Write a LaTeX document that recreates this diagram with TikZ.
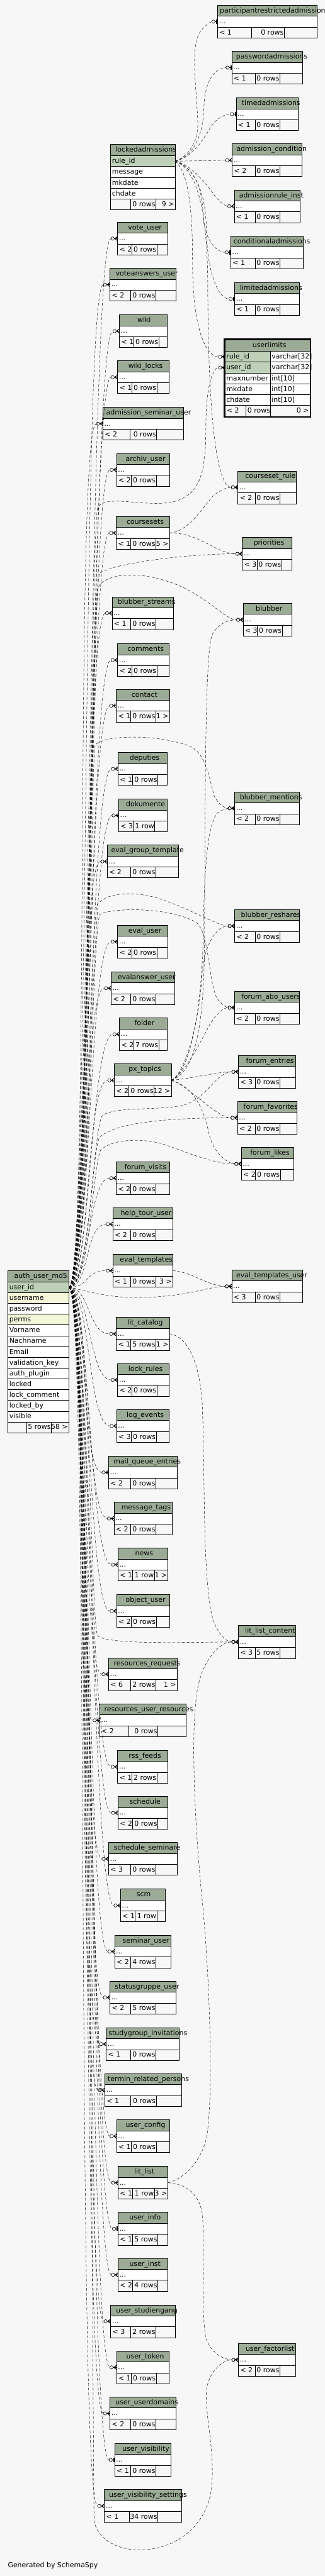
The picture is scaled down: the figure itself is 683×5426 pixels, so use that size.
\documentclass[tikz,border=0pt]{standalone}
\usepackage{fontspec}
\setmainfont{DejaVu Sans}
\usepackage{tikz}
\usetikzlibrary{arrows.meta, calc}

\definecolor{hdrcol}{HTML}{9BAB96}
\definecolor{pkcol}{HTML}{BED1B8}
\definecolor{idxcol}{HTML}{F4F7DA}
\definecolor{bgcol}{HTML}{F7F7F7}

\newcommand\erfont{\fontsize{14.5}{17}\selectfont}

% zero or many
\pgfdeclarearrow{
  name = Many,
  setup code = {
    \pgfarrowssettipend{0pt}
    \pgfarrowssetlineend{-14pt}
    \pgfarrowssetbackend{-14pt}
    \pgfarrowsupperhullpoint{0pt}{5pt}
    \pgfarrowsupperhullpoint{-14pt}{3.5pt}
  },
  drawing code = {
    \pgfsetdash{}{0pt}
    \pgfsetlinewidth{0.8pt}
    \pgfpathcircle{\pgfqpoint{-10.5pt}{0pt}}{3.5pt}
    \pgfusepathqstroke
    \pgfsetlinewidth{1.3pt}
    \pgfpathmoveto{\pgfqpoint{-7pt}{0pt}}
    \pgfpathlineto{\pgfqpoint{0pt}{0pt}}
    \pgfpathmoveto{\pgfqpoint{0pt}{4.5pt}}
    \pgfpathlineto{\pgfqpoint{-6pt}{0pt}}
    \pgfpathlineto{\pgfqpoint{0pt}{-4.5pt}}
    \pgfusepathqstroke
  }
}
% zero or one
\pgfdeclarearrow{
  name = One,
  setup code = {
    \pgfarrowssettipend{0pt}
    \pgfarrowssetlineend{-12pt}
    \pgfarrowssetbackend{-12pt}
    \pgfarrowsupperhullpoint{0pt}{5pt}
    \pgfarrowsupperhullpoint{-12pt}{3.5pt}
  },
  drawing code = {
    \pgfsetdash{}{0pt}
    \pgfsetlinewidth{0.8pt}
    \pgfpathcircle{\pgfqpoint{-8.5pt}{0pt}}{3.5pt}
    \pgfusepathqstroke
    \pgfpathmoveto{\pgfqpoint{-5pt}{0pt}}
    \pgfpathlineto{\pgfqpoint{0pt}{0pt}}
    \pgfusepathqstroke
    \pgfpathrectangle{\pgfqpoint{-3pt}{-4.5pt}}{\pgfqpoint{2.5pt}{9pt}}
    \pgfusepathqfill
  }
}

% x1 x2 top s2 left mid right
\newcommand\erfoot[7]{%
  \node[anchor=base west] at (#1+4,#3+62) {#5};
  \node[anchor=base east] at (#4-1,#3+62) {#6};
  \node[anchor=base east] at (#2-2,#3+62) {#7};
}
% name title x1 x2 top s1 s2 footer
\newcommand\ertable[8]{%
  \draw[hdr] (#3,#5) rectangle (#4,#5+23);
  \node[anchor=base] (#1-m) at ({(#3+#4)/2},#5+16) {\phantom{#2}};
  \node[anchor=base west] (#1-t) at ($(#1-m.base west)!0.065!(#1-m.base east)$) {#2};
  \node[rowbox, minimum width={(#4-#3)*1pt}] (#1) at (#3,#5+23) {};
  \node[anchor=base west] at (#3+3,#5+39) {...};
  \draw[footbox] (#3,#5+46) rectangle (#4,#5+69)
    (#6,#5+46) -- (#6,#5+69) (#7,#5+46) -- (#7,#5+69);
  \erfoot{#3}{#4}{#5}{#7}#8%
}

\begin{document}
\begin{tikzpicture}[
    x=1pt, y=-1pt,
    every node/.style={font=\erfont, inner sep=0pt, outer sep=0pt},
    hdr/.style={draw, line width=0.9pt, fill=hdrcol},
    rowbox/.style={draw, line width=0.9pt, fill=white, minimum height=23pt, anchor=north west},
    footbox/.style={draw, line width=0.9pt},
    fk/.style={line width=0.6pt, dash pattern=on 6pt off 4pt}
  ]
  \useasboundingbox (0,0) rectangle (683,5426);
  \fill[bgcol] (0,0) rectangle (683,5426);

  % lockedadmissions
  \draw[hdr] (232.6,304) rectangle (368.1,328);
  \node[anchor=base west] at (243,320) {lockedadmissions};
  \foreach \txt/\col [count=\i] in {rule\_id/pkcol, message/white, mkdate/white, chdate/white} {
    \node[rowbox, minimum width=135.5pt, fill=\col] (locked-\i) at (232.6,{328+(\i-1)*22.8}) {};
    \node[anchor=base west] at (235.6,{344+(\i-1)*22.8}) {\txt};
  }
  \draw[footbox] (232.6,419.2) rectangle (368.1,442) (275.3,419.2) -- (275.3,442) (327.6,419.2) -- (327.6,442);
  \node[anchor=base east] at (326.6,435) {0 rows};
  \node[anchor=base east] at (366.1,435) {9 >};

  % userlimits
  \draw[hdr] (473.5,716) rectangle (651.6,740);
  \node[anchor=base west] at (531,732) {userlimits};
  \foreach \txt/\col/\typ [count=\i] in {rule\_id/pkcol/varchar[32], user\_id/pkcol/varchar[32], maxnumber/white/int[10], mkdate/white/int[10], chdate/white/int[10]} {
    \node[rowbox, minimum width=95.8pt, fill=\col] (ul-\i) at (473.5,{740+(\i-1)*22.8}) {};
    \node[rowbox, minimum width=82.3pt] at (569.3,{740+(\i-1)*22.8}) {};
    \node[anchor=base west] at (476,{756+(\i-1)*22.8}) {\txt};
    \node[anchor=base west] at (571.5,{756+(\i-1)*22.8}) {\typ};
  }
  \draw[footbox] (473.5,854) rectangle (651.6,876.8) (517.1,854) -- (517.1,876.8) (569.3,854) -- (569.3,876.8);
  \node[anchor=base west] at (477,870) {< 2};
  \node[anchor=base east] at (568.3,870) {0 rows};
  \node[anchor=base east] at (649.6,870) {0 >};
  \draw[line width=3pt] (472,714.5) rectangle (653.1,878.3);

  % auth_user_md5
  \draw[hdr] (16.6,2676.5) rectangle (144.6,2700);
  \node[anchor=base west] at (30,2692) {auth\_user\_md5};
  \foreach \txt/\col [count=\i] in {user\_id/pkcol, username/idxcol, password/white, perms/idxcol, Vorname/white, Nachname/white, Email/white, validation\_key/white, auth\_plugin/white, locked/white, lock\_comment/white, locked\_by/white, visible/white} {
    \node[rowbox, minimum width=128pt, fill=\col] (auth-\i) at (16.6,{2700+(\i-1)*22.7}) {};
    \node[anchor=base west] at (19.6,{2716+(\i-1)*22.7}) {\txt};
  }
  \draw[footbox] (16.6,2995.1) rectangle (144.6,3017.8) (55.8,2995.1) -- (55.8,3017.8) (107.6,2995.1) -- (107.6,3017.8);
  \node[anchor=base east] at (106.6,3011) {5 rows};
  \node[anchor=base east] at (142.6,3011) {58 >};

  % right column
  \ertable{partadm}{participantrestrictedadmissions}{457.4}{667.3}{11}{528.4}{597.6}{{< 1}{0 rows}{}}
  \ertable{pwadm}{passwordadmissions}{487.4}{636.4}{108}{536.7}{588.5}{{< 1}{0 rows}{}}
  \ertable{timedadm}{timedadmissions}{496.6}{627.3}{206}{536.7}{588.5}{{< 1}{0 rows}{}}
  \ertable{admcond}{admission\_condition}{488.3}{635.1}{303}{536.7}{588.5}{{< 2}{0 rows}{}}
  \ertable{admruleinst}{admissionrule\_inst}{492.7}{631.2}{400}{536.7}{588.5}{{< 1}{0 rows}{}}
  \ertable{condadm}{conditionaladmissions}{485.3}{637.3}{497}{536.7}{588.5}{{< 1}{0 rows}{}}
  \ertable{limadm}{limitedadmissions}{493.5}{629.4}{595}{536.7}{588.5}{{< 1}{0 rows}{}}
  \ertable{csrule}{courseset\_rule}{500.5}{623.3}{992}{536.7}{588.5}{{< 2}{0 rows}{}}
  \ertable{priorities}{priorities}{509.7}{613.3}{1132}{540.6}{592.4}{{< 3}{0 rows}{}}
  \ertable{blubber}{blubber}{511.4}{613.3}{1271}{541.4}{593.3}{{< 3}{0 rows}{}}
  \ertable{blmentions}{blubber\_mentions}{493.5}{629.4}{1668}{536.7}{588.5}{{< 2}{0 rows}{}}
  \ertable{blreshares}{blubber\_reshares}{493.5}{629.4}{1916}{536.7}{588.5}{{< 2}{0 rows}{}}
  \ertable{forumabo}{forum\_abo\_users}{493.5}{629.4}{2088}{536.7}{588.5}{{< 2}{0 rows}{}}
  \ertable{forumentries}{forum\_entries}{501.4}{621.2}{2223}{536.7}{588.5}{{< 3}{0 rows}{}}
  \ertable{forumfav}{forum\_favorites}{499.6}{624.2}{2320}{536.7}{588.5}{{< 2}{0 rows}{}}
  \ertable{forumlikes}{forum\_likes}{507.5}{617.2}{2417}{537.5}{589.4}{{< 2}{0 rows}{}}
  \ertable{evaltpluser}{eval\_templates\_user}{487.4}{636.4}{2675}{536.7}{588.5}{{< 3}{0 rows}{}}
  \ertable{litlistcontent}{lit\_list\_content}{501.4}{621.2}{3424}{536.7}{588.5}{{< 3}{5 rows}{}}
  \ertable{userfactor}{user\_factorlist}{501.4}{621.2}{4936}{536.7}{588.5}{{< 2}{0 rows}{}}

  % left column
  \ertable{voteuser}{vote\_user}{247.4}{353.3}{468}{277.5}{329.7}{{< 2}{0 rows}{}}
  \ertable{voteans}{voteanswers\_user}{231.3}{369.4}{565}{275.3}{327.6}{{< 2}{0 rows}{}}
  \ertable{wiki}{wiki}{251.3}{351.1}{663}{281.4}{333.7}{{< 1}{0 rows}{}}
  \ertable{wikilocks}{wiki\_locks}{247.4}{355.4}{760}{277.5}{329.7}{{< 1}{0 rows}{}}
  \ertable{admsemuser}{admission\_seminar\_user}{216.5}{385.5}{858}{273.6}{329.3}{{< 2}{0 rows}{}}
  \ertable{archivuser}{archiv\_user}{245.2}{356.3}{955}{276.2}{328.4}{{< 2}{0 rows}{}}
  \ertable{coursesets}{coursesets}{244.4}{356.3}{1088}{275.3}{327.6}{{< 1}{0 rows}{5 >}}
  \ertable{blstreams}{blubber\_streams}{235.7}{365.0}{1257}{275.3}{327.6}{{< 1}{0 rows}{}}
  \ertable{comments}{comments}{247.4}{355.4}{1356}{277.5}{329.7}{{< 2}{0 rows}{}}
  \ertable{contact}{contact}{244.4}{356.3}{1452}{275.3}{327.6}{{< 1}{0 rows}{1 >}}
  \ertable{deputies}{deputies}{248.3}{352.0}{1585}{279.2}{331.5}{{< 1}{0 rows}{}}
  \ertable{dokumente}{dokumente}{249.6}{352.0}{1683}{280.5}{325.4}{{< 3}{1 row}{}}
  \ertable{evalgrptpl}{eval\_group\_template}{225.6}{375.1}{1780}{275.3}{327.6}{{< 2}{0 rows}{}}
  \ertable{evaluser}{eval\_user}{247.4}{353.3}{1949}{277.5}{329.7}{{< 2}{0 rows}{}}
  \ertable{evalansuser}{evalanswer\_user}{233.5}{367.2}{2047}{275.3}{327.6}{{< 2}{0 rows}{}}
  \ertable{folder}{folder}{251.3}{351.1}{2144}{281.4}{333.7}{{< 2}{7 rows}{}}
  \ertable{pxtopics}{px\_topics}{240.5}{360.2}{2241}{270.9}{323.6}{{< 2}{0 rows}{12 >}}
  \ertable{forumvisits}{forum\_visits}{244.4}{356.3}{2447}{275.3}{327.6}{{< 2}{0 rows}{}}
  \ertable{helptour}{help\_tour\_user}{237.4}{363.3}{2544}{275.3}{327.6}{{< 2}{0 rows}{}}
  \ertable{evaltpl}{eval\_templates}{237.4}{363.3}{2642}{275.3}{327.6}{{< 1}{0 rows}{3 >}}
  \ertable{litcatalog}{lit\_catalog}{244.4}{356.3}{2775}{275.3}{327.6}{{< 1}{5 rows}{1 >}}
  \ertable{lockrules}{lock\_rules}{247.4}{355.4}{2872}{277.5}{329.7}{{< 2}{0 rows}{}}
  \ertable{logevents}{log\_events}{245.2}{355.4}{2969}{276.2}{328.4}{{< 3}{0 rows}{}}
  \ertable{mailqueue}{mail\_queue\_entries}{228.3}{372.4}{3067}{275.3}{327.6}{{< 2}{0 rows}{}}
  \ertable{msgtags}{message\_tags}{239.6}{361.5}{3164}{275.3}{327.6}{{< 2}{0 rows}{}}
  \ertable{news}{news}{248.3}{353.3}{3261}{279.2}{324.5}{{< 1}{1 row}{1 >}}
  \ertable{objuser}{object\_user}{245.2}{356.3}{3359}{276.2}{328.4}{{< 2}{0 rows}{}}
  \ertable{resreq}{resources\_requests}{228.3}{372.4}{3492}{275.3}{327.6}{{< 6}{2 rows}{1 >}}
  \ertable{resuserres}{resources\_user\_resources}{209.5}{391.6}{3589}{270.9}{331.5}{{< 2}{0 rows}{}}
  \ertable{rssfeeds}{rss\_feeds}{247.4}{353.3}{3687}{277.5}{329.7}{{< 1}{2 rows}{}}
  \ertable{schedule}{schedule}{248.3}{353.3}{3784}{279.2}{331.5}{{< 2}{0 rows}{}}
  \ertable{schedsem}{schedule\_seminare}{228.3}{372.4}{3881}{275.3}{327.6}{{< 3}{0 rows}{}}
  \ertable{scm}{scm}{253.5}{347.2}{3979}{284.4}{329.7}{{< 1}{1 row}{}}
  \ertable{semuser}{seminar\_user}{241.3}{359.4}{4076}{275.3}{327.6}{{< 2}{4 rows}{}}
  \ertable{statusgrp}{statusgruppe\_user}{231.3}{369.4}{4173}{275.3}{327.6}{{< 2}{5 rows}{}}
  \ertable{sginv}{studygroup\_invitations}{223.5}{377.2}{4271}{275.3}{327.6}{{< 1}{0 rows}{}}
  \ertable{terminrel}{termin\_related\_persons}{220.4}{381.6}{4368}{275.3}{328.4}{{< 1}{0 rows}{}}
  \ertable{userconfig}{user\_config}{245.2}{356.3}{4465}{276.2}{328.4}{{< 1}{0 rows}{}}
  \ertable{litlist}{lit\_list}{248.3}{353.3}{4563}{279.2}{324.5}{{< 1}{1 row}{3 >}}
  \ertable{userinfo}{user\_info}{248.3}{353.3}{4660}{279.2}{331.5}{{< 1}{5 rows}{}}
  \ertable{userinst}{user\_inst}{248.3}{353.3}{4757}{279.2}{331.5}{{< 2}{4 rows}{}}
  \ertable{userstud}{user\_studiengang}{232.6}{368.1}{4855}{275.3}{327.6}{{< 3}{2 rows}{}}
  \ertable{usertoken}{user\_token}{245.2}{355.4}{4952}{276.2}{328.4}{{< 1}{0 rows}{}}
  \ertable{userdomains}{user\_userdomains}{231.3}{369.4}{5049}{275.3}{327.6}{{< 2}{0 rows}{}}
  \ertable{uservis}{user\_visibility}{241.3}{359.4}{5147}{275.3}{327.6}{{< 1}{0 rows}{}}
  \ertable{uservisset}{user\_visibility\_settings}{219.5}{381.6}{5244}{271.4}{331.5}{{< 1}{34 rows}{}}

  \node[anchor=base west] (gen) at (16.6,5408) {Generated by SchemaSpy};

  % auth_user_md5.user_id -> left column
  \foreach \t in {voteuser,voteans,wiki,wikilocks,admsemuser,archivuser,coursesets,blstreams,comments,contact,deputies,dokumente,evalgrptpl,evaluser,evalansuser,folder,pxtopics,forumvisits,helptour,evaltpl,litcatalog,lockrules,logevents,mailqueue,msgtags,news,objuser,resreq,resuserres,rssfeeds,schedule,schedsem,scm,semuser,statusgrp,sginv,terminrel,userconfig,litlist,userinst,userstud,usertoken,userdomains,uservisset}
    \draw[fk,-Many] (auth-1.east) .. controls +(45,0) and +(-60,0) .. (\t.west);
  \foreach \t in {userinfo,uservis}
    \draw[fk,-One] (auth-1.east) .. controls +(45,0) and +(-60,0) .. (\t.west);

  % auth_user_md5.user_id -> right column
  \draw[fk,-Many] (auth-1.east) .. controls +(45,0) and (188,1200) .. (205,1070) .. controls (220,1040) and (300,1068) .. (360,1058) .. controls (420,1045) and (433,1000) .. (433,900) .. controls (433,805) and (450,774.2) .. (ul-2.west);
  \draw[fk,-Many] (auth-1.east) .. controls +(45,0) and (190,1300) .. (209,1208) .. controls (240,1185) and (400,1166.5) .. (priorities.west);
  \draw[fk,-Many] (auth-1.east) .. controls +(45,0) and (190,1330) .. (205,1240) .. controls (220,1205) and (300,1200) .. (380,1235) .. controls (440,1262) and (475,1305.5) .. (blubber.west);
  \draw[fk,-Many] (auth-1.east) .. controls +(45,0) and (190,1620) .. (200,1570) .. controls (215,1548) and (330,1545) .. (400,1572) .. controls (435,1590) and (440,1640) .. (450,1675) .. controls (458,1695) and (475,1702.5) .. (blmentions.west);
  \draw[fk,-Many] (auth-1.east) .. controls +(45,0) and (188,1950) .. (205,1905) .. controls (225,1878) and (290,1875) .. (350,1898) .. controls (410,1920) and (460,1950.5) .. (blreshares.west);
  \draw[fk,-Many] (auth-1.east) .. controls +(45,0) and (192,1970) .. (210,1926) .. controls (240,1910) and (370,1912) .. (415,1945) .. controls (440,1970) and (438,2060) .. (455,2100) .. controls (465,2118) and (480,2122.5) .. (forumabo.west);
  \draw[fk,-Many] (auth-1.east) .. controls +(45,0) and (195,2380) .. (215,2350) .. controls (240,2330) and (330,2340) .. (385,2328) .. controls (435,2315) and (455,2257.5) .. (forumentries.west);
  \draw[fk,-Many] (auth-1.east) .. controls +(45,0) and (192,2420) .. (210,2395) .. controls (240,2368) and (330,2354.5) .. (forumfav.west);
  \draw[fk,-Many] (auth-1.east) .. controls +(45,0) and (195,2450) .. (212,2422) .. controls (235,2400) and (300,2395) .. (350,2412) .. controls (400,2430) and (450,2451.5) .. (forumlikes.west);
  \draw[fk,-Many] (auth-1.east) .. controls (170,2715) and (220,2735) .. (300,2733) .. controls (400,2730) and (440,2709.5) .. (evaltpluser.west);
  \draw[fk,-Many] (auth-1.east) .. controls +(45,0) and (190,3400) .. (205,3445) .. controls (222,3466) and (420,3458.5) .. (litlistcontent.west);
  \draw[fk,-Many] (auth-1.east) .. controls +(45,0) and (195,5200) .. (198,5310) .. controls (205,5350) and (250,5372) .. (296,5371) .. controls (370,5370) and (440,5320) .. (446,5230) .. controls (450,5150) and (433,5100) .. (434,5040) .. controls (436,4995) and (470,4970.5) .. (userfactor.west);

  % lockedadmissions.rule_id
  \draw[fk,-One] (locked-1.east) .. controls (395,330) and (418,300) .. (416,255) .. controls (413,180) and (398,90) .. (425,62) .. controls (435,50) and (445,45.5) .. (partadm.west);
  \draw[fk,-One] (locked-1.east) .. controls (405,330) and (427,290) .. (429,225) .. controls (431,165) and (455,142.5) .. (pwadm.west);
  \draw[fk,-One] (locked-1.east) .. controls (410,330) and (432,285) .. (447,262) .. controls (458,247) and (475,240.5) .. (timedadm.west);
  \draw[fk,-Many] (locked-1.east) -- (admcond.west);
  \draw[fk,-Many] (locked-1.east) .. controls (400,345) and (432,385) .. (450,410) .. controls (462,426) and (475,434.5) .. (admruleinst.west);
  \draw[fk,-One] (locked-1.east) .. controls (402,350) and (425,385) .. (427,450) .. controls (429,505) and (455,531.5) .. (condadm.west);
  \draw[fk,-One] (locked-1.east) .. controls (405,352) and (432,395) .. (434,480) .. controls (436,585) and (462,629.5) .. (limadm.west);
  \draw[fk,-Many] (locked-1.east) .. controls (392,358) and (405,420) .. (405,550) .. controls (405,700) and (435,751.4) .. (ul-1.west);
  \draw[fk,-Many] (locked-1.east) .. controls (408,355) and (436,420) .. (437,600) .. controls (438,950) and (465,1026.5) .. (csrule.west);

  % coursesets
  \draw[fk,-Many] (coursesets.east) .. controls (395,1122) and (425,1070) .. (448,1045) .. controls (462,1032) and (478,1026.5) .. (csrule.west);
  \draw[fk,-Many] (coursesets.east) .. controls (420,1122) and (455,1166.5) .. (priorities.west);

  % px_topics
  \draw[fk,-Many] (pxtopics.east) .. controls (400,2262) and (428,2200) .. (430,2000) .. controls (432,1700) and (430,1400) .. (445,1340) .. controls (455,1315) and (480,1305.5) .. (blubber.west);
  \draw[fk,-Many] (pxtopics.east) .. controls (395,2262) and (425,2150) .. (428,1950) .. controls (430,1800) and (440,1740) .. (455,1715) .. controls (465,1705) and (480,1702.5) .. (blmentions.west);
  \draw[fk,-Many] (pxtopics.east) .. controls (390,2262) and (420,2150) .. (425,2050) .. controls (430,1990) and (455,1950.5) .. (blreshares.west);
  \draw[fk,-Many] (pxtopics.east) .. controls (385,2265) and (420,2200) .. (440,2160) .. controls (455,2135) and (470,2122.5) .. (forumabo.west);
  \draw[fk,-Many] (pxtopics.east) .. controls (400,2272) and (460,2257.5) .. (forumentries.west);
  \draw[fk,-Many] (pxtopics.east) .. controls (395,2285) and (455,2354.5) .. (forumfav.west);
  \draw[fk,-Many] (pxtopics.east) .. controls (410,2290) and (430,2340) .. (440,2390) .. controls (450,2430) and (480,2451.5) .. (forumlikes.west);

  % eval_templates, lit_catalog, lit_list
  \draw[fk,-Many] (evaltpl.east) .. controls (400,2678) and (440,2709.5) .. (evaltpluser.west);
  \draw[fk,-Many] (litcatalog.east) .. controls (385,2812) and (417,2850) .. (425,2950) .. controls (432,3100) and (425,3300) .. (445,3400) .. controls (455,3440) and (475,3458.5) .. (litlistcontent.west);
  \draw[fk,-Many] (litlist.east) .. controls (380,4592) and (422,4560) .. (435,4500) .. controls (450,4400) and (440,4150) .. (425,4000) .. controls (410,3850) and (400,3650) .. (415,3560) .. controls (425,3500) and (460,3458.5) .. (litlistcontent.west);
  \draw[fk,-Many] (litlist.east) .. controls (380,4600) and (415,4610) .. (425,4660) .. controls (432,4720) and (422,4850) .. (432,4920) .. controls (440,4955) and (470,4970.5) .. (userfactor.west);
\end{tikzpicture}
\end{document}
